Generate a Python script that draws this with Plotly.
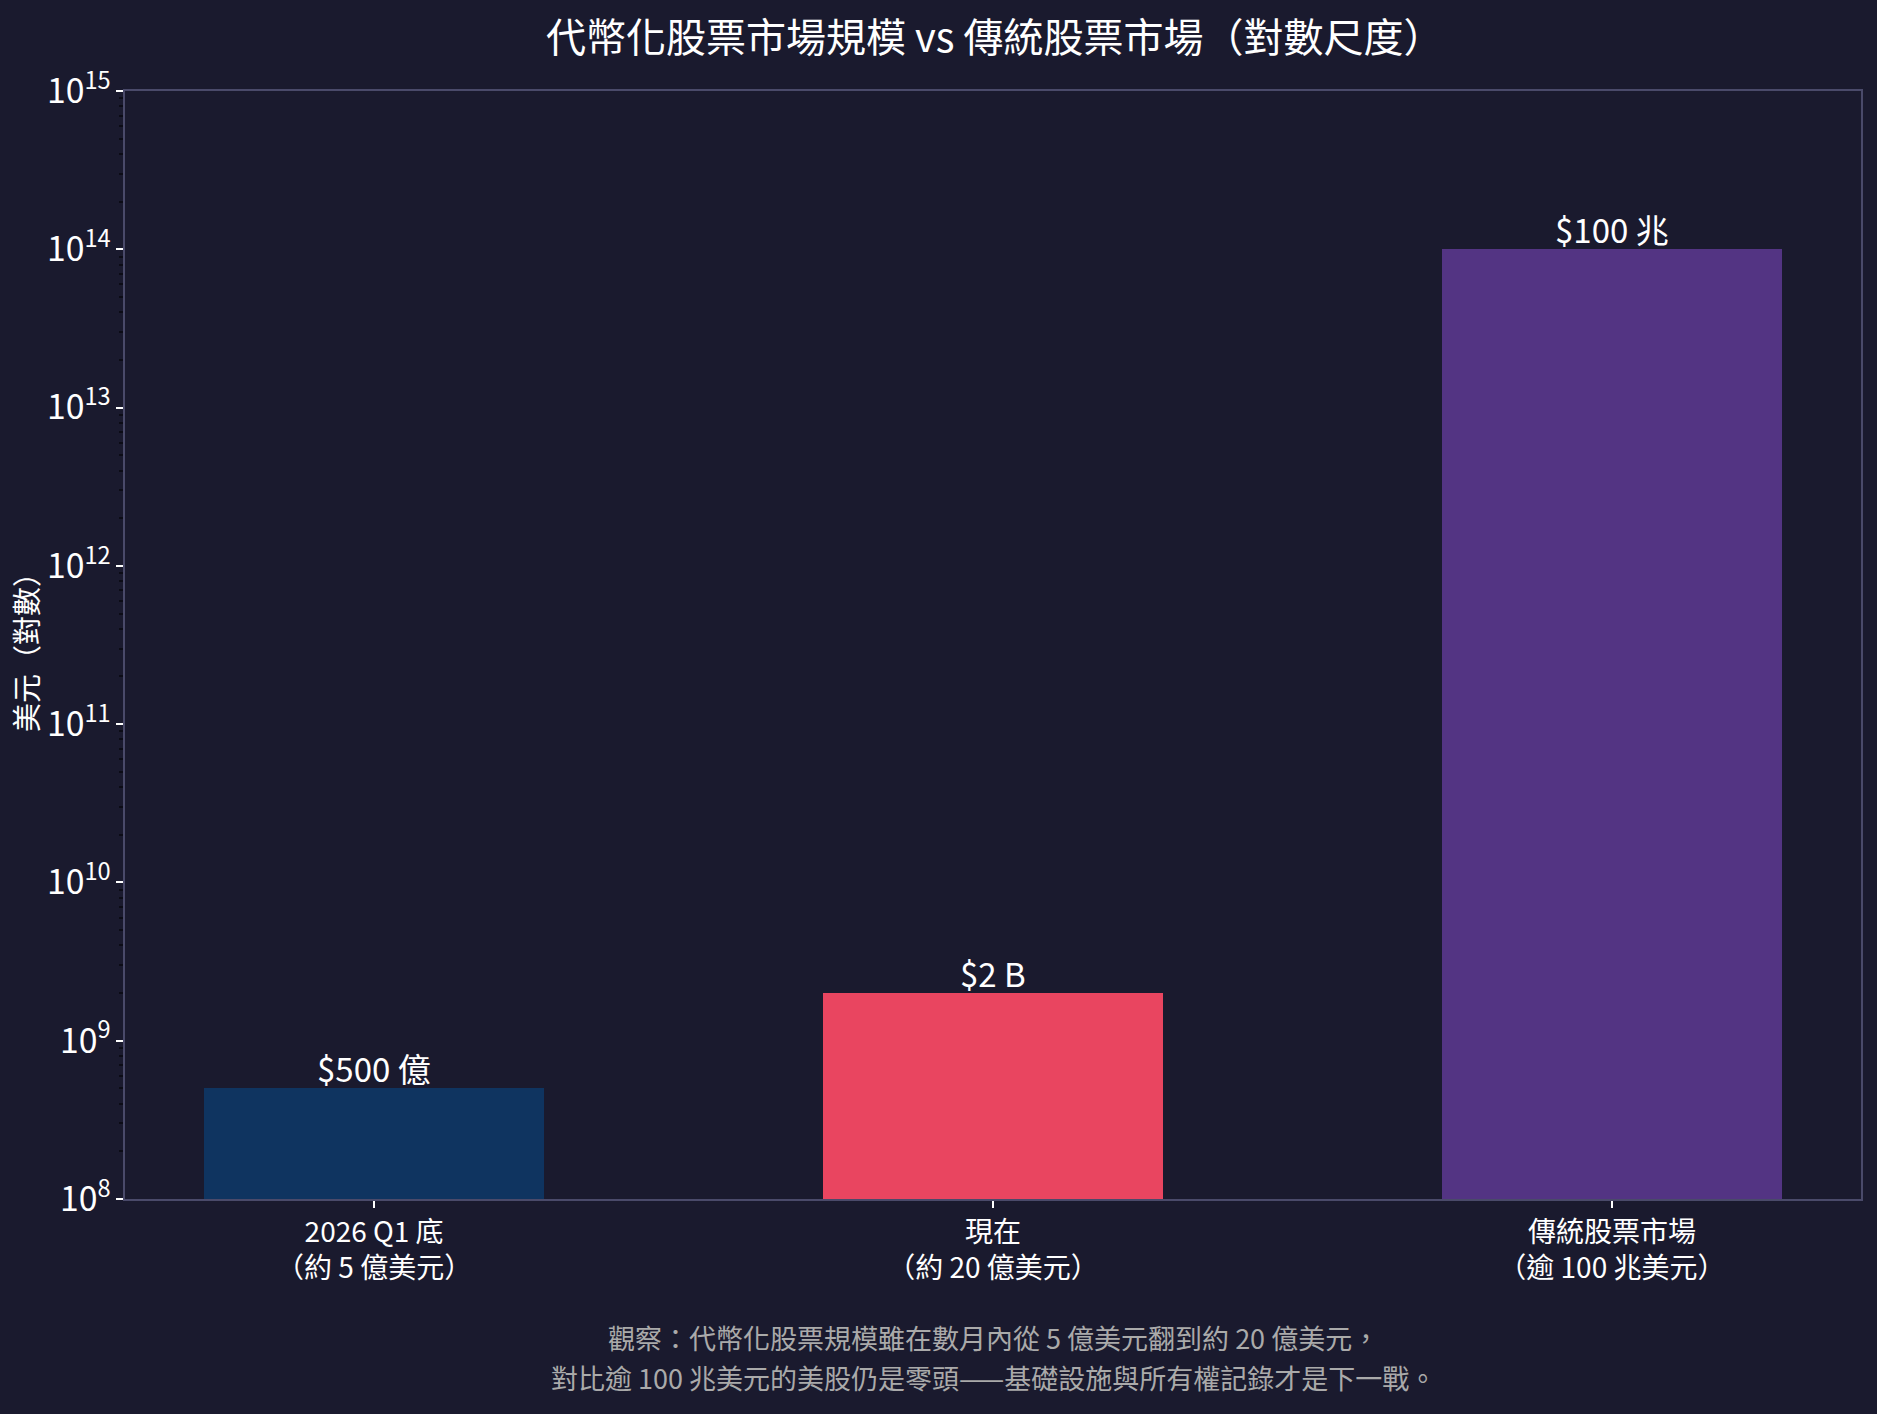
import numpy as np
import plotly.graph_objects as go

# data
categories = ["2026 Q1 底<br>（約 5 億美元）", "現在<br>（約 20 億美元）", "傳統股票市場<br>（逾 100 兆美元）"]
values = [5e8, 2e9, 1e14]
bar_labels = ["$500 億", "$2 B", "$100 兆"]
bar_colors = ["#0f3460", "#e94560", "#533483"]

title = "代幣化股票市場規模 vs 傳統股票市場（對數尺度）"
y_title = "美元（對數）"
note_lines = [
    "觀察：代幣化股票規模雖在數月內從 5 億美元翻到約 20 億美元，",
    "對比逾 100 兆美元的美股仍是零頭——基礎設施與所有權記錄才是下一戰。",
]

BG = "#1a1a2e"
SPINE = "#4a4a6a"
FONT = "Noto Sans CJK TC"

fig = go.Figure()
fig.add_trace(go.Bar(
    x=list(range(len(values))), y=values,
    marker=dict(color=bar_colors, line=dict(width=0)),
    width=0.55, showlegend=False, hoverinfo="y",
))

for i, (v, lab) in enumerate(zip(values, bar_labels)):
    fig.add_annotation(x=i, y=np.log10(v), text=lab, showarrow=False,
                       yanchor="bottom", yshift=-6,
                       font=dict(size=33, color="white", family=FONT))

for j, line in enumerate(note_lines):
    fig.add_annotation(xref="paper", yref="paper", x=0.5, y=-0.125 - j * 0.036,
                       text=line, showarrow=False, yanchor="middle",
                       font=dict(size=27, color="#aaaaaa", family=FONT))

fig.update_layout(
    width=1877, height=1414,
    paper_bgcolor=BG, plot_bgcolor=BG,
    margin=dict(l=125, r=16, t=91, b=215),
    font=dict(family=FONT, color="white", size=27),
    title=dict(text=title, x=0.53, xref="container", xanchor="center",
               y=1 - 38 / 1414, yref="container", yanchor="middle",
               font=dict(size=40, color="white", family=FONT)),
    bargap=0,
)
fig.update_xaxes(
    range=[-0.4025, 2.4025], tickmode="array",
    tickvals=list(range(len(categories))), ticktext=categories,
    showline=True, linecolor=SPINE, linewidth=2, mirror=True,
    ticks="outside", ticklen=7, tickcolor="white", tickwidth=1.5,
    showgrid=False, zeroline=False,
    tickfont=dict(size=28, color="white", family=FONT),
)
fig.update_yaxes(
    type="log", range=[8, 15], dtick=1, exponentformat="power",
    showline=True, linecolor=SPINE, linewidth=2, mirror=True,
    ticks="outside", ticklen=7, tickcolor="white", tickwidth=1.5,
    minor=dict(ticks="outside", ticklen=4, tickcolor="#0c0c16", dtick="D1"),
    showgrid=False, zeroline=False,
    tickfont=dict(size=27, color="white", family=FONT),
    title=dict(text=y_title, font=dict(size=29, color="white", family=FONT), standoff=0),
)

fig.write_html("out.html", config={"displayModeBar": False},
               post_script="document.body.style.margin='0';document.body.style.background='#1a1a2e';")
